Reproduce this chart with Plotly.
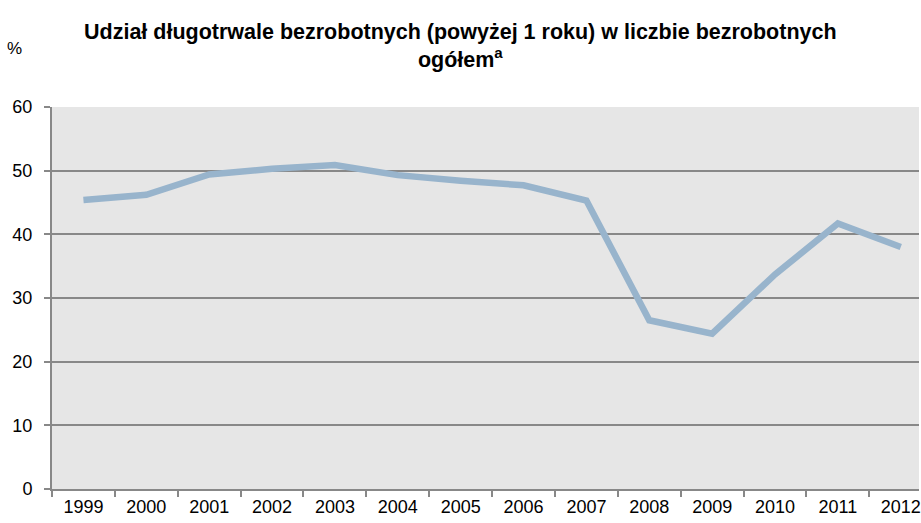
import plotly.graph_objects as go

years = ["1999", "2000", "2001", "2002", "2003", "2004", "2005", "2006",
         "2007", "2008", "2009", "2010", "2011", "2012"]
share = [45.4, 46.2, 49.4, 50.3, 50.9, 49.3, 48.4, 47.7,
         45.3, 26.5, 24.4, 33.7, 41.7, 38.0]
y_ticks = [0, 10, 20, 30, 40, 50, 60]

title_text = "<b>Udział długotrwale bezrobotnych (powyżej 1 roku) w liczbie bezrobotnych<br>ogółem<sup>a</sup></b>"
font_family = "Liberation Sans, Arial, sans-serif"

W, H = 921, 523
L, R, T, B = 52, 0, 107, 34

fig = go.Figure()
fig.add_trace(go.Scatter(
    x=years, y=share, mode="lines",
    line=dict(color="#98b4cc", width=6.5),
    hoverinfo="x+y",
))

pw, ph = W - L - R, H - T - B


def px_x(x):
    return (x - L) / pw


def px_y(y):
    return (H - B - y) / ph


fig.update_layout(
    width=W, height=H,
    margin=dict(l=L, r=R, t=T, b=B),
    paper_bgcolor="white",
    plot_bgcolor="#e6e6e6",
    showlegend=False,
    font=dict(family=font_family, size=18, color="black"),
    annotations=[
        dict(text=title_text, x=px_x(461), y=px_y(46), xref="paper", yref="paper",
             showarrow=False, font=dict(size=21.5, family=font_family, color="black"),
             xanchor="center", yanchor="middle", align="center"),
        dict(text="%", x=px_x(14), y=px_y(48), xref="paper", yref="paper", showarrow=False,
             font=dict(size=17, family=font_family, color="black"),
             xanchor="center", yanchor="middle"),
    ],
)

fig.update_xaxes(
    type="category", range=[-0.5, 13.29],
    tickson="boundaries", ticks="outside", ticklen=6, tickcolor="#888888", tickwidth=2,
    showline=True, linecolor="#888888", linewidth=2,
    showgrid=False, zeroline=False,
    tickfont=dict(size=18, family=font_family, color="black"),
)
fig.update_yaxes(
    range=[0, 60], tickvals=y_ticks,
    ticks="outside", ticklen=6, tickcolor="#888888", tickwidth=2,
    ticklabelstandoff=8,
    showline=True, linecolor="#888888", linewidth=2,
    showgrid=True, gridcolor="#888888", gridwidth=2,
    zeroline=False,
    tickfont=dict(size=18, family=font_family, color="black"),
)

fig.write_html("out.html", config={"displayModeBar": False},
               post_script="document.body.style.margin='0';document.body.style.overflow='hidden';")
